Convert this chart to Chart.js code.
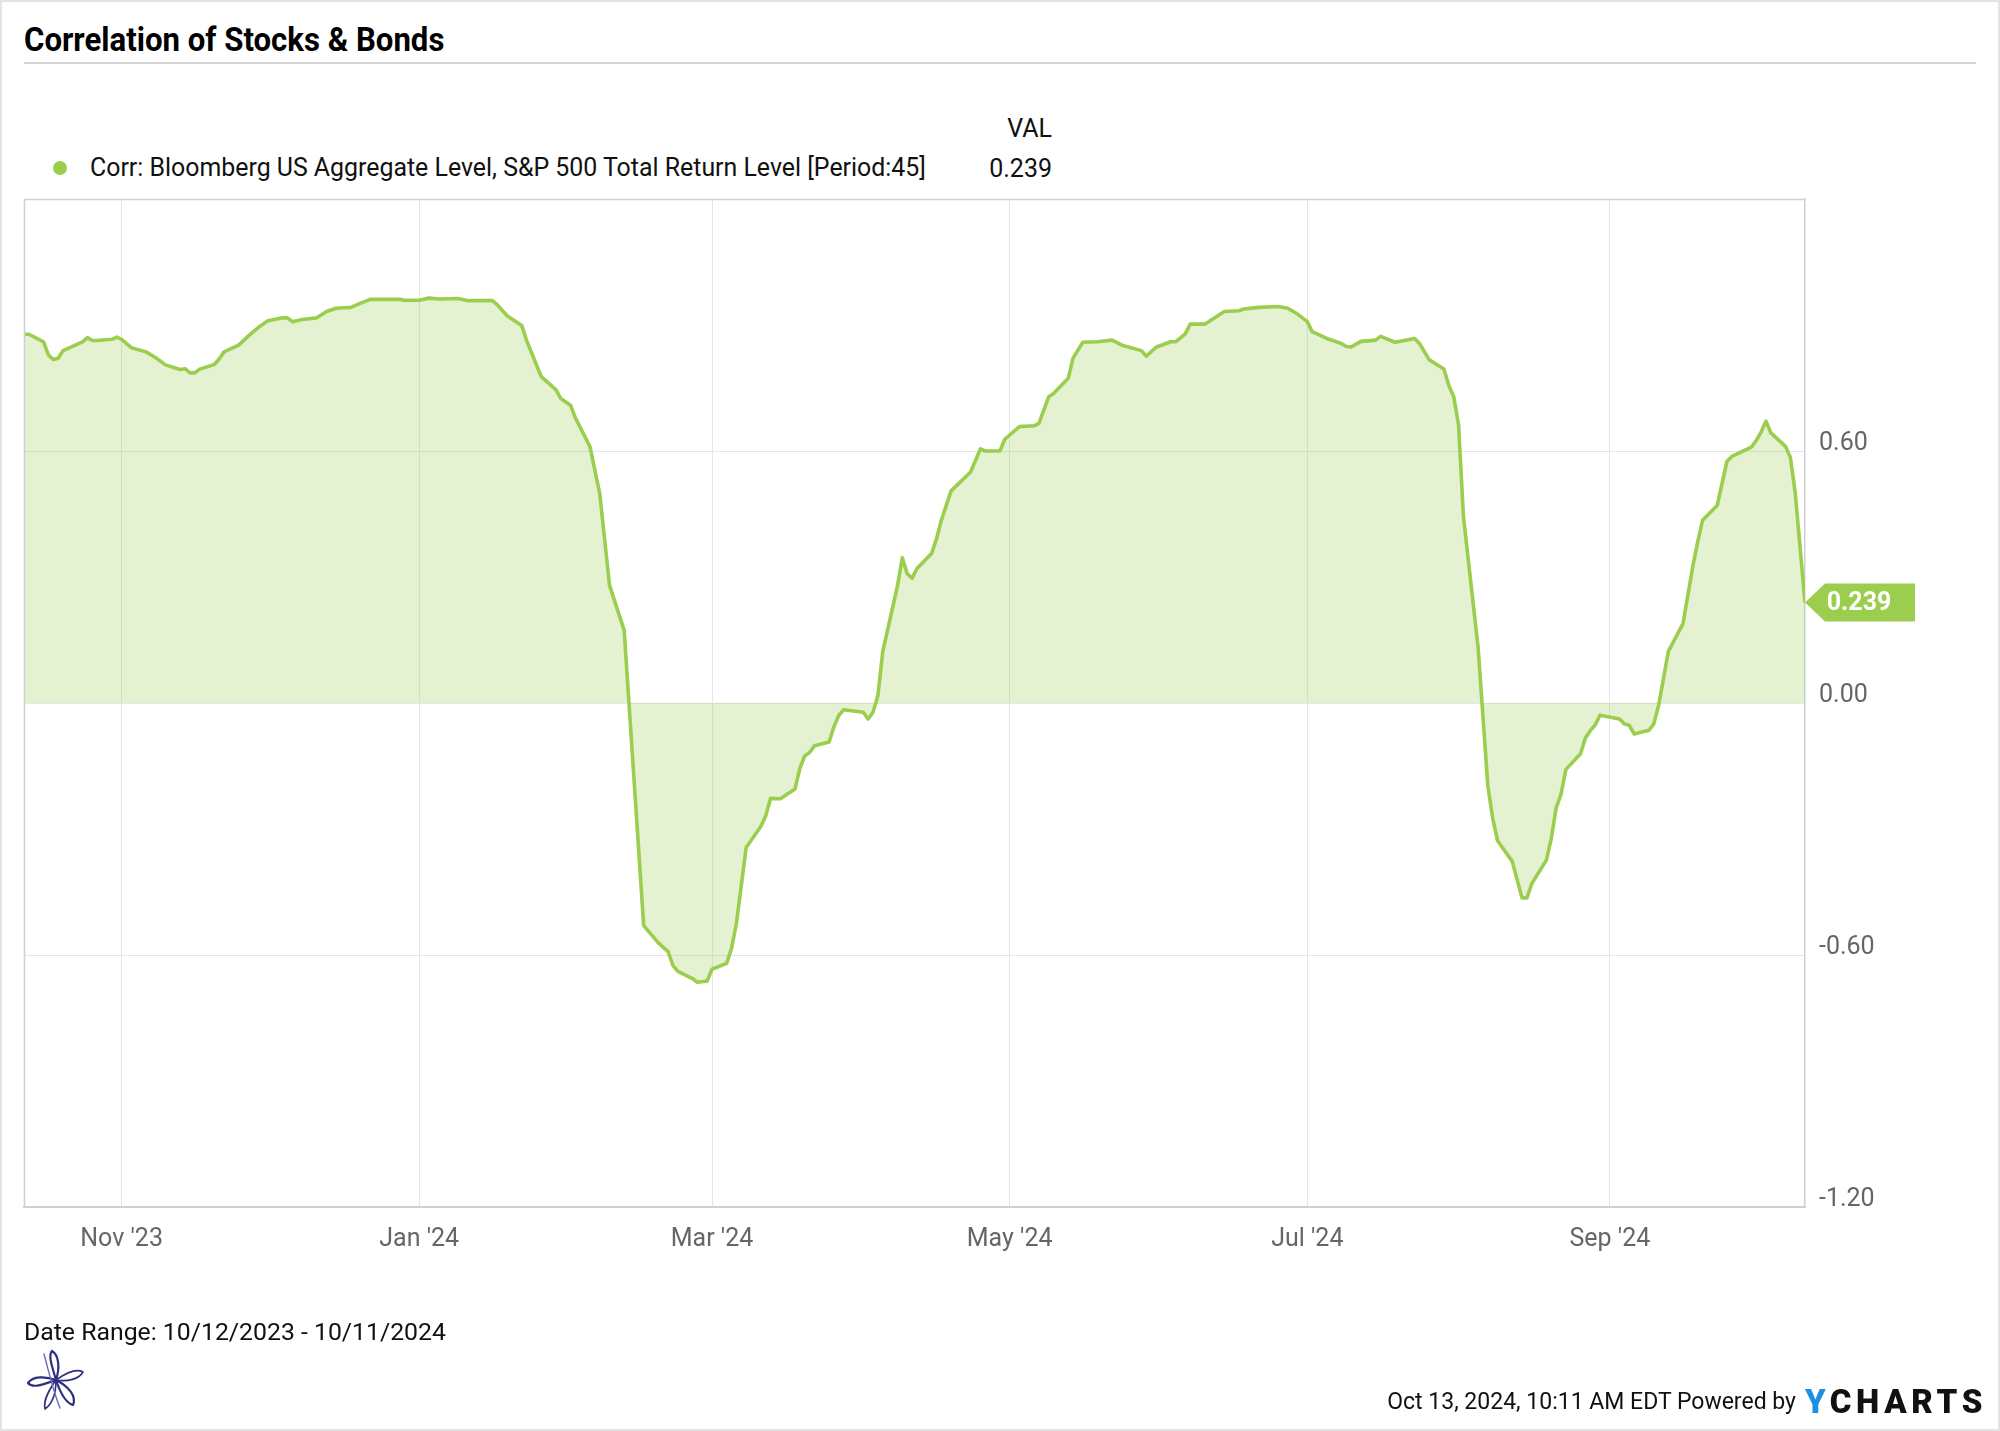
<!DOCTYPE html>
<html>
<head>
<meta charset="utf-8">
<title>Correlation of Stocks &amp; Bonds</title>
<script src="https://cdn.jsdelivr.net/npm/chart.js@4.4.1/dist/chart.umd.min.js"></script>
<style>
  html, body { margin: 0; padding: 0; background: #fff; }
  body {
    width: 2000px; height: 1431px; position: relative; overflow: hidden;
    font-family: Roboto, 'Noto Sans', sans-serif; color: #111;
  }
  #frame { position: absolute; left: 0; top: 0; width: 1996px; height: 1427px; border: 2px solid #e3e3e3; }
  .txt { position: absolute; white-space: nowrap; line-height: 1; }
  #title { left: 24px; top: 22px; font-size: 34px; font-weight: 700; color: #000; transform: scaleX(0.916); transform-origin: left center; }
  #titleRule { position: absolute; left: 24px; top: 62px; width: 1952px; height: 2px; background: #d4d4d4; }
  #legDot { position: absolute; left: 53px; top: 161px; width: 14px; height: 14px; border-radius: 50%; background: #9bcd4e; }
  #legText { left: 90px; top: 156px; font-size: 24.9px; }
  #valHead { right: 948px; top: 116px; font-size: 25px; }
  #valNum { right: 948px; top: 156px; font-size: 25px; }
  #range { left: 24px; top: 1320px; font-size: 24.8px; }
  #stamp { right: 204px; top: 1390px; font-size: 23px; }
  #brand { left: 1805px; top: 1385px; font-size: 33px; font-weight: 900; letter-spacing: 4.6px; color: #111; }
  #brand span { color: #1b91e3; }
  #logo { position: absolute; left: 24px; top: 1348px; }
  #chart { position: absolute; left: 0; top: 0; }
</style>
</head>
<body>
<div id="frame"></div>
<div id="title" class="txt">Correlation of Stocks &amp; Bonds</div>
<div id="titleRule"></div>
<div id="legDot"></div>
<div id="legText" class="txt">Corr: Bloomberg US Aggregate Level, S&amp;P 500 Total Return Level [Period:45]</div>
<div id="valHead" class="txt">VAL</div>
<div id="valNum" class="txt"></div>
<canvas id="chart" width="2000" height="1431"></canvas>
<div id="range" class="txt">Date Range: 10/12/2023 - 10/11/2024</div>
<svg id="logo" width="64" height="64" viewBox="0 0 64 64">
  <g fill="none" stroke="#2e2f80" stroke-linecap="round" stroke-linejoin="round">
    <path stroke-width="2.2" d="M32 32 C28 18 24 8 28 3 C35 7 36 20 32 32"/>
    <path stroke-width="1.6" d="M32 32 C42 25 52 20 59 24 C55 31 44 34 32 32"/>
    <path stroke-width="2.2" d="M32 32 C44 38 53 48 49 57 C42 55 36 44 32 32"/>
    <path stroke-width="1.6" d="M32 32 C32 46 28 56 21 61 C19 52 25 42 32 32"/>
    <path stroke-width="2.2" d="M32 32 C20 36 9 41 4 35 C9 28 21 28 32 32"/>
    <path stroke-width="1.4" stroke="#6a6cb0" d="M20 6 C24 20 28 40 36 60"/>
  </g>
</svg>
<div id="stamp" class="txt">Oct 13, 2024, 10:11 AM EDT Powered by</div>
<div id="brand" class="txt"><span>Y</span>CHARTS</div>

<script>
(() => {
  'use strict';

  // Days since 10/12/2023 (first point of the range) and the 45-day correlation
  const dayOffsets = [
    0, 1, 4, 5, 6, 7, 8, 12, 13, 14, 15, 18, 19, 20, 22, 25, 27, 29, 32, 33,
    34, 35, 36, 39, 40, 41, 44, 46, 48, 50, 53, 54, 55, 57, 60, 62, 64, 67, 69, 71,
    74, 77, 78, 81, 83, 85, 89, 91, 96, 97, 99, 102, 103, 106, 109, 110, 112, 113, 116, 117,
    118, 120, 123, 127, 130, 132, 133, 134, 137, 138, 140, 141, 144, 145, 146, 148, 151, 152, 153, 155,
    158, 159, 160, 161, 162, 165, 166, 167, 168, 172, 173, 174, 175, 176, 179, 180, 181, 182, 183, 186,
    187, 188, 190, 194, 196, 197, 200, 201, 204, 207, 208, 210, 211, 214, 215, 217, 220, 223, 225, 229,
    230, 232, 235, 236, 238, 239, 242, 246, 249, 250, 253, 257, 259, 261, 263, 264, 267, 270, 271, 272,
    274, 277, 278, 281, 285, 286, 288, 291, 292, 293, 294, 295, 298, 300, 301, 302, 305, 307, 308, 309,
    312, 313, 314, 315, 316, 319, 320, 321, 322, 323, 327, 328, 329, 330, 333, 334, 335, 337, 340, 342,
    343, 344, 347, 349, 350, 354, 355, 356, 357, 358, 361, 362, 363, 365
  ];
  const corrValues = [
    0.878, 0.878, 0.860, 0.829, 0.818, 0.821, 0.839, 0.860, 0.870, 0.863, 0.863, 0.866, 0.871, 0.866, 0.846, 0.836, 0.822, 0.805, 0.794, 0.796,
    0.786, 0.786, 0.795, 0.806, 0.819, 0.836, 0.852, 0.874, 0.894, 0.910, 0.917, 0.917, 0.908, 0.913, 0.917, 0.932, 0.940, 0.942, 0.952, 0.961,
    0.961, 0.961, 0.959, 0.959, 0.964, 0.962, 0.963, 0.958, 0.958, 0.948, 0.922, 0.899, 0.863, 0.777, 0.746, 0.725, 0.709, 0.679, 0.610, 0.554,
    0.498, 0.280, 0.173, -0.530, -0.571, -0.592, -0.625, -0.639, -0.656, -0.665, -0.662, -0.634, -0.620, -0.584, -0.525, -0.344, -0.294, -0.269, -0.227, -0.228,
    -0.205, -0.156, -0.126, -0.118, -0.102, -0.093, -0.056, -0.029, -0.016, -0.022, -0.038, -0.022, 0.018, 0.123, 0.278, 0.346, 0.308, 0.297, 0.320, 0.356,
    0.390, 0.435, 0.505, 0.550, 0.605, 0.600, 0.600, 0.628, 0.658, 0.660, 0.666, 0.729, 0.737, 0.773, 0.821, 0.859, 0.860, 0.864, 0.852, 0.839,
    0.826, 0.847, 0.860, 0.860, 0.879, 0.902, 0.902, 0.932, 0.934, 0.938, 0.942, 0.944, 0.940, 0.926, 0.908, 0.884, 0.868, 0.856, 0.849, 0.848,
    0.861, 0.864, 0.873, 0.859, 0.868, 0.856, 0.817, 0.795, 0.756, 0.730, 0.662, 0.444, 0.133, -0.197, -0.275, -0.328, -0.377, -0.464, -0.464, -0.430,
    -0.374, -0.323, -0.250, -0.217, -0.158, -0.121, -0.083, -0.066, -0.052, -0.029, -0.038, -0.050, -0.053, -0.074, -0.065, -0.050, -0.006, 0.123, 0.189, 0.325,
    0.383, 0.435, 0.470, 0.575, 0.587, 0.609, 0.625, 0.645, 0.671, 0.643, 0.611, 0.585, 0.500, 0.239
  ];

  // Month gridlines (day offsets of Nov 1, Jan 1, Mar 1, May 1, Jul 1, Sep 1)
  const tickDays   = [20, 81, 141, 202, 263, 325];
  const tickLabels = ["Nov '23", "Jan '24", "Mar '24", "May '24", "Jul '24", "Sep '24"];
  const yTicks     = [-1.2, -0.6, 0, 0.6, 1.2];

  const LINE = '#9bcd4e';
  const FILL = 'rgba(155,205,78,0.26)';
  const GRID = '#e6e6e6';
  const AXIS = '#d0d0d0';

  const lastValue = corrValues[corrValues.length - 1];
  document.getElementById('valNum').textContent = lastValue.toFixed(3);

  // Light border on the top and left of the plot (axes only give bottom/right)
  const plotFrame = {
    id: 'plotFrame',
    afterDatasetsDraw(chart) {
      const { ctx, chartArea: a } = chart;
      ctx.save();
      ctx.strokeStyle = AXIS;
      ctx.lineWidth = 1.5;
      ctx.beginPath();
      ctx.moveTo(a.left + 0.5, a.bottom);
      ctx.lineTo(a.left + 0.5, a.top + 0.5);
      ctx.lineTo(a.right, a.top + 0.5);
      ctx.stroke();
      ctx.restore();
    }
  };

  // Arrow tag with the last value, sitting on the right axis
  const lastTag = {
    id: 'lastTag',
    afterDraw(chart) {
      const { ctx, chartArea: a } = chart;
      const y = chart.scales.y.getPixelForValue(lastValue);
      const x = a.right;
      ctx.save();
      ctx.fillStyle = LINE;
      ctx.beginPath();
      ctx.moveTo(x, y);
      ctx.lineTo(x + 20, y - 19);
      ctx.lineTo(x + 110, y - 19);
      ctx.lineTo(x + 110, y + 19);
      ctx.lineTo(x + 20, y + 19);
      ctx.closePath();
      ctx.fill();
      ctx.fillStyle = '#fff';
      ctx.font = 'bold 25px Roboto';
      ctx.textAlign = 'center';
      ctx.textBaseline = 'middle';
      ctx.fillText(lastValue.toFixed(3), x + 54, y + 1);
      ctx.restore();
    }
  };

  const tickFont = { family: 'Roboto', size: 25 };

  new Chart(document.getElementById('chart').getContext('2d'), {
    type: 'line',
    data: {
      datasets: [{
        data: dayOffsets.map((d, i) => ({ x: d, y: corrValues[i] })),
        borderColor: LINE,
        borderWidth: 3.6,
        borderJoinStyle: 'round',
        backgroundColor: FILL,
        fill: 'origin',
        pointRadius: 0,
        tension: 0
      }]
    },
    options: {
      responsive: false,
      animation: false,
      devicePixelRatio: 1,
      layout: { padding: { left: 24, top: 199, right: 0, bottom: 164 } },
      plugins: { legend: { display: false }, tooltip: { enabled: false } },
      scales: {
        x: {
          type: 'linear',
          min: 0,
          max: 365,
          afterBuildTicks: s => { s.ticks = tickDays.map(v => ({ value: v })); },
          afterFit: s => { s.height = 60; },
          ticks: {
            callback: v => tickLabels[tickDays.indexOf(v)] || '',
            font: tickFont,
            color: '#666',
            padding: 18,
            maxRotation: 0,
            autoSkip: false
          },
          grid: { color: GRID, drawTicks: false },
          border: { color: AXIS, width: 2 }
        },
        y: {
          position: 'right',
          min: -1.2,
          max: 1.2,
          afterBuildTicks: s => { s.ticks = yTicks.map(v => ({ value: v })); },
          afterFit: s => { s.width = 195; },
          ticks: {
            callback: v => (v >= 1.2 ? '' : v.toFixed(2)),
            font: tickFont,
            color: '#666',
            padding: 14,
            labelOffset: -7
          },
          grid: { color: GRID, drawTicks: false },
          border: { color: AXIS, width: 1.5 }
        }
      }
    },
    plugins: [plotFrame, lastTag]
  });
})();
</script>
</body>
</html>
